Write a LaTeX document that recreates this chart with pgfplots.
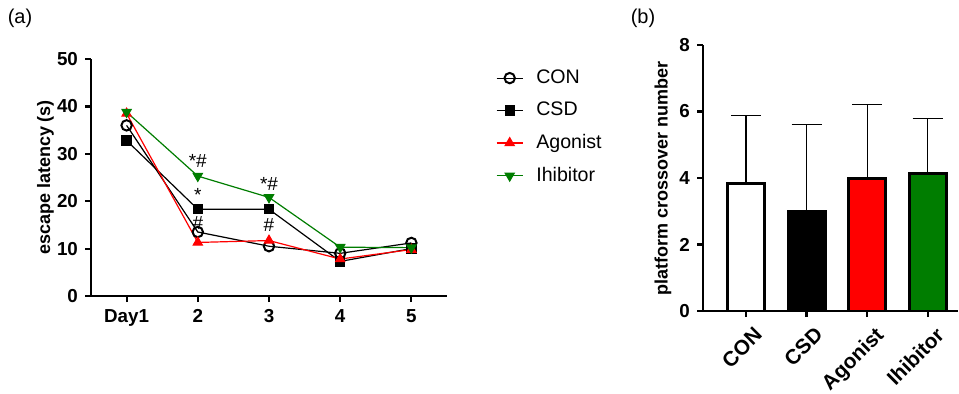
\documentclass[border=0pt]{standalone}
\usepackage{fontspec}
\setmainfont{Liberation Sans}
\usepackage{pgfplots}
\pgfplotsset{compat=1.18}
\definecolor{gr}{RGB}{0,125,0}
\definecolor{rd}{RGB}{255,0,0}
\begin{document}
\begin{tikzpicture}[font=\fontsize{9}{10.8}\selectfont]
\useasboundingbox (0,0) rectangle (479.5pt,196.5pt);
\node[anchor=center] at (10pt,187.5pt) {\fontsize{10}{12}\selectfont (a)};
\node[anchor=center] at (321.5pt,187.5pt) {\fontsize{10}{12}\selectfont (b)};
\begin{axis}[
  at={(45.5pt,48.5pt)}, anchor=south west, scale only axis,
  width=178pt, height=118.5pt,
  xmin=0.5, xmax=5.5, ymin=0, ymax=50,
  axis lines=left, axis line style={-, line width=1.1pt},
  every tick/.style={line width=1.1pt, black},
  tick align=outside, major tick length=3pt,
  xtick={1,2,3,4,5}, xticklabels={Day1,2,3,4,5},
  ytick={0,10,20,30,40,50},
  ticklabel style={font=\fontsize{9.4}{11}\selectfont\bfseries},
  /pgf/number format/assume math mode=true,
  ylabel={\bfseries escape latency\,(s)},
  ylabel style={font=\fontsize{10.7}{12}\selectfont},
  every axis y label/.style={at={(axis description cs:-0.128,0.5)}, rotate=90, anchor=center},
  legend style={at={(1.12,0.99)}, anchor=north west, draw=none, fill=none,
    row sep=3.8pt, font=\fontsize{9.8}{11}\selectfont, cells={anchor=west}},
  legend image code/.code={\draw[mark repeat=2,mark phase=2] plot coordinates {(0pt,0pt) (6.5pt,0pt) (13pt,0pt)}; \path (17.5pt,0pt);},
  clip=false,
]
\addplot[black, line width=0.6pt, mark=o, mark size=2.6pt, mark options={line width=1pt, fill=white}]
 coordinates {(1,36) (2,13.5) (3,10.5) (4,9) (5,11.2)};
\addlegendentry{CON}
\addplot[black, line width=0.6pt, mark=square*, mark size=2.3pt]
 coordinates {(1,32.8) (2,18.3) (3,18.3) (4,7.3) (5,10.0)};
\addlegendentry{CSD}
\addplot[rd, line width=0.6pt, mark=triangle*, mark size=2.6pt]
 coordinates {(1,38.5) (2,11.3) (3,11.7) (4,7.8) (5,9.8)};
\addlegendentry{Agonist}
\addplot[gr, line width=0.6pt, mark=triangle*, mark size=2.6pt, mark options={rotate=180}]
 coordinates {(1,38.8) (2,25.3) (3,20.8) (4,10.3) (5,10.2)};
\addlegendentry{Ihibitor}
\begin{scope}[every node/.style={font=\fontsize{9.5}{11}\selectfont}]
\node at (axis cs:2,28.5) {*\#};
\node at (axis cs:2,21.3) {*};
\node at (axis cs:2,15.3) {\#};
\node at (axis cs:3,23.7) {*\#};
\node at (axis cs:3,15) {\#};
\end{scope}
\end{axis}
\begin{axis}[
  at={(351.5pt,41pt)}, anchor=south west, scale only axis,
  width=127.5pt, height=133pt,
  xmin=0.29, xmax=4.5, ymin=0, ymax=8,
  axis lines=left, axis line style={-, line width=1.1pt},
  every tick/.style={line width=1.1pt, black},
  tick align=outside, major tick length=3pt,
  xtick={1,2,3,4}, xticklabels={CON,CSD,Agonist,Ihibitor},
  ytick={0,2,4,6,8},
  ticklabel style={font=\fontsize{9.4}{11}\selectfont\bfseries},
  x tick label style={rotate=45, anchor=north east, inner sep=1pt, yshift=-4.5pt, xshift=0.5pt, font=\fontsize{10.4}{12}\selectfont\bfseries},
  /pgf/number format/assume math mode=true,
  ylabel={\bfseries platform crossover number},
  ylabel style={font=\fontsize{13.2}{15}\selectfont},
  every axis y label/.style={at={(axis description cs:-0.157,0.5)}, rotate=90, anchor=center},
  ybar, bar width=18.5pt, bar shift=0pt,
  error bars/y dir=plus, error bars/y explicit,
  error bars/error mark options={rotate=90, mark size=7.5pt, line width=0.6pt, black},
  error bars/error bar style={line width=0.6pt, black},
]
\addplot[draw=black, fill=white, line width=1.5pt] coordinates {(1,3.82) +- (0,2.06)};
\addplot[draw=black, fill=black, line width=1.5pt] coordinates {(2,3.0) +- (0,2.62)};
\addplot[draw=black, fill=rd, line width=1.5pt] coordinates {(3,4.0) +- (0,2.2)};
\addplot[draw=black, fill=gr, line width=1.5pt] coordinates {(4,4.15) +- (0,1.63)};
\end{axis}
\end{tikzpicture}
\end{document}
